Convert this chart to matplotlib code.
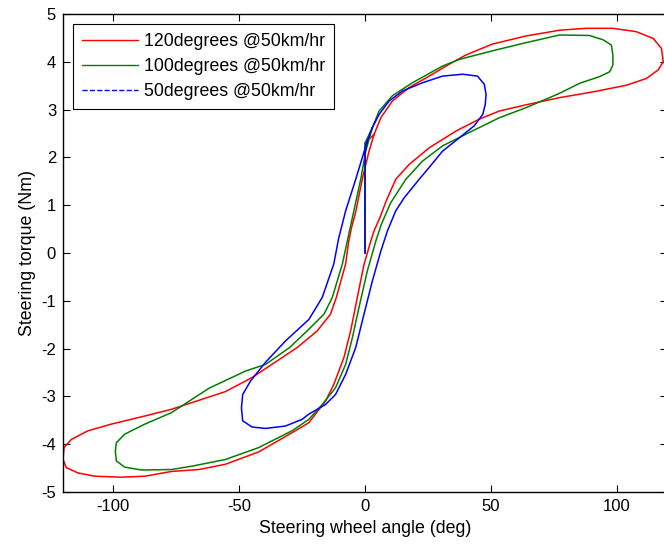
import numpy as np
import matplotlib
matplotlib.use('Agg')
import matplotlib.pyplot as plt
from matplotlib.lines import Line2D

plt.rcParams['font.family'] = ['Liberation Sans', 'DejaVu Sans']
plt.rcParams['axes.unicode_minus'] = False

x120 = [0, 0, 3.6, 6.3, 10.9, 17.5, 25.5, 33.5, 40, 50.6, 64, 77.3, 87.9, 98.5, 107.8, 114.5,
        117.8, 118.5, 116.5, 111.8, 103.9, 90.6, 77.3, 64, 53.4, 45.4, 36.1, 25.5, 17.5,
        12.2, 8.5, 6.0, 3.6, 2.3, -0.4, -3.1, -5.7, -8.4, -12.4, -15.7, -22.3, -29, -42.2,
        -55.5, -66, -76.9, -87.5, -96.8, -107.4, -114.1, -118.7, -120, -119.6, -116.7,
        -110.1, -100.8, -87.5, -76.9, -68.8, -55.5, -45, -37, -27, -19, -13.7, -11.4, -7.7,
        -6.6, -5.5, -3.6, -1.1, 1.6, 3.6]
y120 = [0, 2.3, 2.48, 2.83, 3.18, 3.46, 3.70, 3.95, 4.14, 4.37, 4.54, 4.66, 4.70, 4.70, 4.63, 4.49,
        4.28, 4.0, 3.83, 3.65, 3.51, 3.37, 3.25, 3.1, 2.97, 2.80, 2.55, 2.20, 1.85,
        1.54, 1.1, 0.75, 0.46, 0.25, -0.24, -0.94, -1.63, -2.19, -2.75, -3.1, -3.55, -3.76, -4.16,
        -4.42, -4.53, -4.57, -4.67, -4.69, -4.67, -4.60, -4.49, -4.32, -4.07, -3.90,
        -3.72, -3.58, -3.41, -3.27, -3.13, -2.9, -2.61, -2.33, -1.98, -1.63, -1.28, -0.93, -0.23,
        0.2, 0.5, 0.88, 1.54, 2.13, 2.48]

x100 = [0, 0, 2.9, 5.6, 10.9, 18.8, 30.8, 37.5, 50.7, 64, 77.3, 89.2, 94.6, 97.9, 98.5, 98.5,
        97.2, 93.2, 85.3, 77.3, 64, 53.4, 41.4, 30.8, 22.8, 16.2, 10.2, 6.5, 4.3, 0.9, -2.4,
        -5, -7.7, -11.7, -17, -22.3, -29, -42.2, -55.5, -68.8, -76.9, -88.8, -95.5, -98.8,
        -99.2, -98.8, -95.5, -87.5, -76.9, -62, -47.5, -39.5, -30, -23, -16.3, -13, -9, -6,
        -1.7, 0.3, 2.9]
y100 = [0, 2.3, 2.62, 2.97, 3.29, 3.56, 3.91, 4.05, 4.23, 4.4, 4.56, 4.55, 4.46, 4.35, 4.14, 3.93,
        3.79, 3.69, 3.55, 3.34, 3.04, 2.83, 2.52, 2.24, 1.92, 1.54, 1.05, 0.6, 0.25, -0.38, -1.14,
        -1.77, -2.33, -2.82, -3.17, -3.48, -3.72, -4.07, -4.32, -4.46, -4.53, -4.54, -4.48, -4.35,
        -4.14, -3.97, -3.79, -3.58, -3.34, -2.83, -2.47, -2.33, -1.98, -1.63, -1.28, -0.93, -0.23, 0.5,
        1.54, 2.13, 2.62]

x50 = [0, 0, 0.9, 2.9, 5.6, 9.6, 14.9, 22.8, 30.8, 38.8, 44.7, 47.4, 48.1, 47.8, 46.8, 43.4,
       37.5, 30.8, 25.5, 21.5, 15.5, 12.2, 8.9, 6.3, 2.9, -0.4, -3.7, -7.7, -11.7, -15.7,
       -22.3, -25, -31.6, -39.6, -44.9, -48.6, -49.1, -48.6, -45.5, -39.6, -31.6, -22.3,
       -17, -12.4, -10.5, -7.7, -3.7, -1.1, 0.9]
y50 = [0, 2.1, 2.34, 2.62, 2.9, 3.18, 3.39, 3.56, 3.70, 3.74, 3.70, 3.53, 3.32, 3.11, 2.90, 2.66,
       2.41, 2.13, 1.79, 1.54, 1.15, 0.88, 0.46, 0.04, -0.59, -1.28, -1.98, -2.54, -2.96, -3.17,
       -3.37, -3.48, -3.62, -3.67, -3.64, -3.51, -3.24, -2.96, -2.68, -2.29, -1.84, -1.39,
       -0.93, -0.23, 0.3, 0.88, 1.54, 1.99, 2.34]

labels = ['120degrees @50km/hr', '100degrees @50km/hr', '50degrees @50km/hr']

fig = plt.figure(figsize=(6.64, 5.46), dpi=100)
ax = fig.add_axes([0.0949, 0.0989, 0.9096, 0.8755])

ax.plot(x120, y120, color='#ff0000', lw=1.1)
ax.plot(x100, y100, color='#008000', lw=1.1)
ax.plot(x50, y50, color='#0000ff', lw=1.1)

ax.set_xlim(-120, 120)
ax.set_ylim(-5, 5)
ax.set_xticks([-100, -50, 0, 50, 100])
ax.set_yticks(np.arange(-5, 6, 1))
ax.tick_params(direction='in', length=5, width=0.8, top=True, right=True, labelsize=12, pad=5)
for s in ax.spines.values():
    s.set_linewidth(1.0)

ax.set_xlabel('Steering wheel angle (deg)', fontsize=12.8, labelpad=4)
ax.set_ylabel('Steering torque (Nm)', fontsize=12.8, labelpad=4)

handles = [Line2D([], [], color='#ff0000', lw=1.0),
           Line2D([], [], color='#008000', lw=1.0),
           Line2D([], [], color='#0000ff', lw=1.0, ls='--')]
leg = ax.legend(handles, labels, loc='upper left', bbox_to_anchor=(0.016, 0.979),
                borderaxespad=0, fancybox=False, edgecolor='black', framealpha=1,
                fontsize=12.8, handlelength=3.2, handletextpad=0.3, labelspacing=0.45,
                borderpad=0.5)
leg.get_frame().set_linewidth(0.8)

fig.savefig('out.png', dpi=100)
